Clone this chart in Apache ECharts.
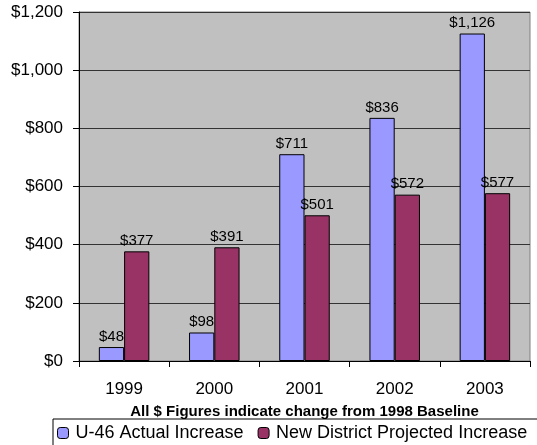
<!DOCTYPE html>
<html>
<head>
<meta charset="utf-8">
<script src="https://cdn.jsdelivr.net/npm/echarts@6/dist/echarts.min.js"></script>
<style>
  html, body { margin: 0; padding: 0; background: #fff; }
  #chart { width: 537px; height: 445px; }
</style>
</head>
<body>
<div id="chart"></div>
<script>
const years = ['1999', '2000', '2001', '2002', '2003'];
const u46Actual = [48, 98, 711, 836, 1126];
const newDistrict = [377, 391, 501, 572, 577];

const money = v => '$' + v.toLocaleString('en-US');
const font = 'Liberation Sans, Arial, sans-serif';

// 基于准备好的dom，初始化echarts实例
const myChart = echarts.init(document.getElementById('chart'));

const labelOpt = {
    show: true,
    position: 'top',
    distance: 3,
    color: '#000',
    fontSize: 15,
    fontFamily: font,
    formatter: p => money(p.value)
};

myChart.setOption({
    animation: false,
    textStyle: { fontFamily: font },
    grid: {
        left: 79, right: 7, top: 12, bottom: 84,
        show: true,
        backgroundColor: '#c0c0c0',
        borderColor: '#808080',
        borderWidth: 1
    },
    legend: {
        left: 53,
        top: 419,
        width: 800,
        itemWidth: 11,
        itemHeight: 11,
        itemGap: 14,
        padding: [5, 40, 5, 4],
        borderColor: '#000',
        borderWidth: 1,
        textStyle: { fontSize: 18, color: '#000', fontFamily: font, padding: [0, 0, 0, 2] },
        data: [
            { name: 'U-46 Actual Increase', itemStyle: { borderColor: '#000', borderWidth: 1 } },
            { name: 'New District Projected Increase', itemStyle: { borderColor: '#000', borderWidth: 1 } }
        ]
    },
    xAxis: {
        type: 'category',
        data: years,
        name: 'All $ Figures indicate change from 1998 Baseline',
        nameLocation: 'middle',
        nameGap: 43,
        nameTextStyle: { fontSize: 15, fontWeight: 'bold', color: '#000', fontFamily: font },
        axisLine: { lineStyle: { color: '#000', width: 1 } },
        axisTick: { show: true, length: 6, lineStyle: { color: '#000' } },
        axisLabel: { color: '#000', fontSize: 17, margin: 20, fontFamily: font }
    },
    yAxis: {
        type: 'value',
        min: 0,
        max: 1200,
        interval: 200,
        axisLine: { show: true, lineStyle: { color: '#000' } },
        axisTick: { show: true, length: 6, lineStyle: { color: '#000' } },
        axisLabel: { color: '#000', fontSize: 17, margin: 16, fontFamily: font, formatter: money },
        splitLine: { lineStyle: { color: '#333', width: 1 } }
    },
    series: [
        {
            name: 'U-46 Actual Increase',
            type: 'bar',
            data: u46Actual,
            barGap: '0%',
            barCategoryGap: '44%',
            itemStyle: { color: '#9999ff', borderColor: '#000', borderWidth: 1 },
            label: labelOpt
        },
        {
            name: 'New District Projected Increase',
            type: 'bar',
            data: newDistrict,
            itemStyle: { color: '#993366', borderColor: '#000', borderWidth: 1 },
            label: labelOpt
        }
    ]
});
</script>
</body>
</html>
